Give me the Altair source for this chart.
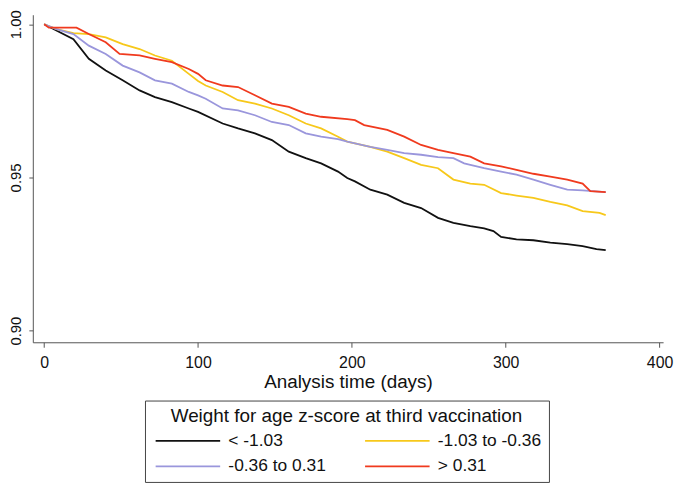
import altair as alt
import pandas as pd

groups = ["< -1.03", "-1.03 to -0.36", "-0.36 to 0.31", "> 0.31"]
colors = ["#111111", "#f7c81a", "#9a96dc", "#f03a1e"]

black_t = [0, 19, 29, 40, 51, 62, 72, 83, 94, 100, 116, 126, 137, 148, 159, 170, 180, 191, 197, 202, 212, 223, 234, 245, 256, 266, 277, 286, 292, 297, 307, 318, 329, 340, 350, 359, 365]
black_s = [1.0, 0.9951, 0.9887, 0.9849, 0.9817, 0.9784, 0.9762, 0.9746, 0.9725, 0.9714, 0.9676, 0.9660, 0.9644, 0.9622, 0.9584, 0.9563, 0.9546, 0.9519, 0.9498, 0.9487, 0.9460, 0.9444, 0.9417, 0.9400, 0.9368, 0.9352, 0.9341, 0.9334, 0.9325, 0.9306, 0.9298, 0.9295, 0.9287, 0.9282, 0.9276, 0.9266, 0.9263]

yellow_t = [0, 8, 19, 29, 40, 51, 62, 72, 83, 94, 100, 105, 116, 126, 137, 148, 159, 170, 180, 191, 197, 202, 212, 223, 234, 245, 256, 266, 277, 286, 297, 307, 318, 329, 340, 350, 361, 365]
yellow_s = [1.0, 0.9984, 0.9971, 0.9968, 0.9957, 0.9935, 0.9919, 0.9898, 0.9881, 0.9838, 0.9815, 0.9800, 0.9779, 0.9752, 0.9741, 0.9725, 0.9703, 0.9676, 0.9660, 0.9633, 0.9617, 0.9611, 0.9600, 0.9584, 0.9563, 0.9541, 0.9530, 0.9493, 0.9480, 0.9476, 0.9449, 0.9441, 0.9433, 0.9420, 0.9409, 0.9390, 0.9384, 0.9377]

purple_t = [0, 8, 19, 29, 40, 51, 62, 72, 83, 94, 100, 105, 116, 126, 137, 148, 159, 170, 180, 191, 197, 202, 212, 223, 234, 245, 256, 266, 273, 277, 286, 297, 307, 318, 329, 340, 350, 365]
purple_s = [1.0, 0.9984, 0.9968, 0.9930, 0.9903, 0.9865, 0.9843, 0.9817, 0.9806, 0.9779, 0.9768, 0.9757, 0.9725, 0.9719, 0.9703, 0.9681, 0.9671, 0.9644, 0.9633, 0.9625, 0.9617, 0.9611, 0.9600, 0.9590, 0.9579, 0.9574, 0.9566, 0.9563, 0.9546, 0.9541, 0.9530, 0.9519, 0.9509, 0.9493, 0.9476, 0.9460, 0.9458, 0.9452]

red_t = [0, 3, 21, 29, 40, 49, 62, 72, 83, 94, 100, 105, 116, 126, 137, 148, 159, 170, 180, 197, 202, 208, 223, 234, 245, 256, 266, 277, 286, 297, 307, 318, 329, 340, 350, 355, 365]
red_s = [1.0, 0.9989, 0.9989, 0.9968, 0.9941, 0.9903, 0.9898, 0.9887, 0.9876, 0.9854, 0.9838, 0.9817, 0.9800, 0.9795, 0.9768, 0.9741, 0.9730, 0.9708, 0.9698, 0.9690, 0.9687, 0.9671, 0.9655, 0.9633, 0.9606, 0.9590, 0.9579, 0.9568, 0.9546, 0.9536, 0.9525, 0.9512, 0.9503, 0.9493, 0.9480, 0.9455, 0.9452]

x_ticks = [0, 100, 200, 300, 400]
y_ticks = [0.90, 0.95, 1.00]

series = [
    (groups[0], black_t, black_s),
    (groups[1], yellow_t, yellow_s),
    (groups[2], purple_t, purple_s),
    (groups[3], red_t, red_s),
]
rows = []
for g, ts, ss in series:
    for t, s in zip(ts, ss):
        rows.append({"t": t, "s": s, "group": g})
df = pd.DataFrame(rows)

FONT = "Liberation Sans"
AXC = "#555555"

chart = alt.Chart(df).mark_line(strokeWidth=1.8, interpolate="linear").encode(
    x=alt.X(
        "t:Q",
        scale=alt.Scale(domain=[-7.4, 402.3], nice=False, zero=False),
        axis=alt.Axis(
            values=x_ticks, title="Analysis time (days)", grid=False,
            labelFontSize=16, titleFontSize=19, labelFont=FONT, titleFont=FONT,
            titleFontWeight="normal", labelColor="#111", titleColor="#111",
            domainColor=AXC, tickColor=AXC, tickSize=5, labelPadding=7,
            titlePadding=3, labelFlush=False,
        ),
    ),
    y=alt.Y(
        "s:Q",
        scale=alt.Scale(domain=[0.8962, 1.0031], nice=False, zero=False),
        axis=alt.Axis(
            values=y_ticks, format=".2f", title=None, grid=False,
            labelAngle=270, labelAlign="center", labelBaseline="bottom",
            labelFontSize=15, labelFont=FONT, labelColor="#111",
            domainColor=AXC, tickColor=AXC, tickSize=4, labelPadding=5,
            labelFlush=False,
        ),
    ),
    color=alt.Color(
        "group:N",
        sort=groups,
        scale=alt.Scale(domain=groups, range=colors),
        legend=alt.Legend(
            title="Weight for age z-score at third vaccination",
            orient="none", legendX=113, legendY=388.7,
            direction="horizontal", columns=2,
            symbolType="M-6.5,0H6.5", symbolSize=100, symbolStrokeWidth=1.8,
            symbolOffset=27.5,
            titleFontSize=19, titleFont=FONT, titleFontWeight="normal",
            titleColor="#111", titleAnchor="middle", titleAlign="center",
            titlePadding=5.5, titleLimit=600,
            labelFontSize=17.5, labelFont=FONT, labelColor="#111",
            labelOffset=32, columnPadding=35, rowPadding=7,
            padding=7, strokeColor="#444444", fillColor="white",
            labelLimit=300,
        ),
    ),
).properties(
    width=635,
    height=330,
    autosize=alt.AutoSizeParams(type="none"),
    padding={"left": 25, "top": 5, "right": 12, "bottom": 140},
).configure_view(stroke=None)

chart.save("out.html", embed_options={"renderer": "svg", "actions": False})
